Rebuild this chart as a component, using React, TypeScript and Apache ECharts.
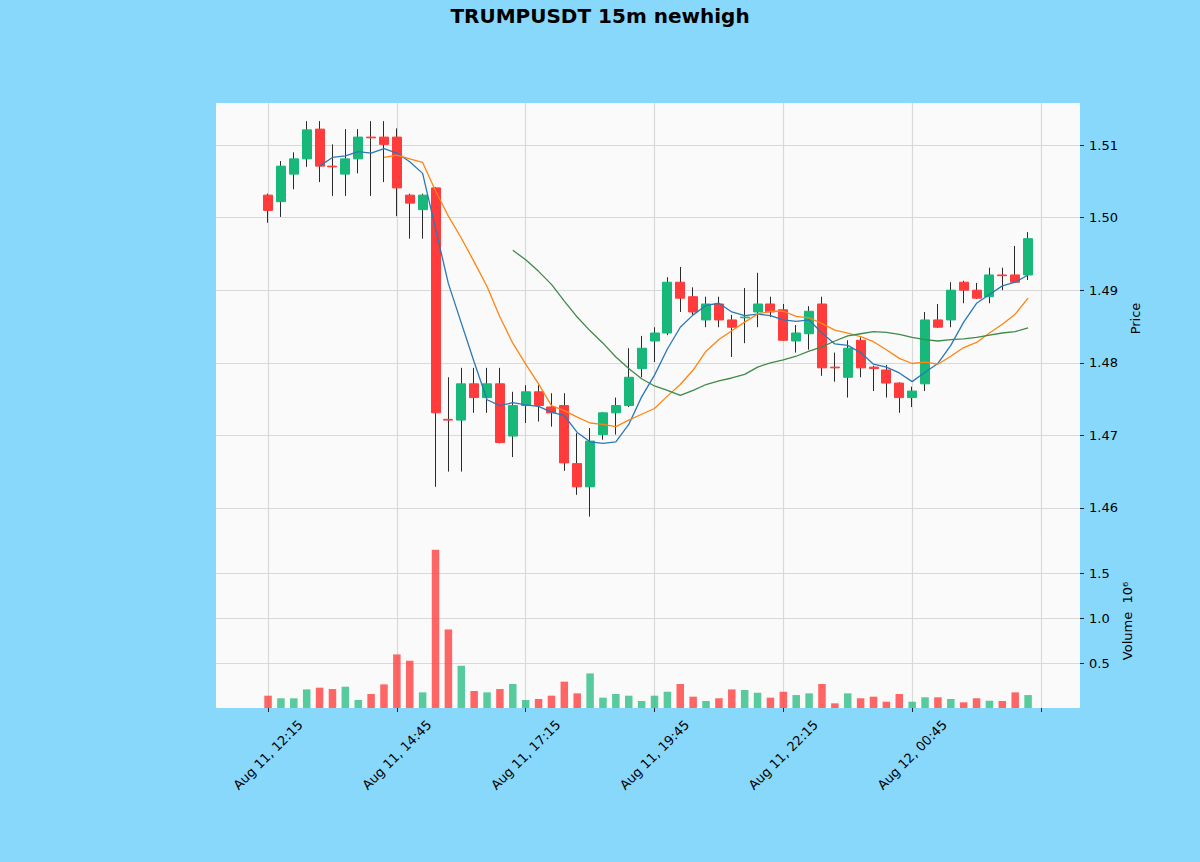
import React, { useEffect, useRef } from "react";
import * as echarts from "echarts";

// ---- data (15m candles, Aug 11 12:15 -> Aug 12 03:00) ----
const tickIndex = [0, 10, 20, 30, 40, 50, 60];
const tickLabels = [
  "Aug 11, 12:15",
  "Aug 11, 14:45",
  "Aug 11, 17:15",
  "Aug 11, 19:45",
  "Aug 11, 22:15",
  "Aug 12, 00:45",
  "",
];

const opens = [
  1.5031, 1.5022, 1.506, 1.5081, 1.5122, 1.5071, 1.506, 1.5081, 1.5111, 1.5111,
  1.5111, 1.5031, 1.5011, 1.5041, 1.4722, 1.4721, 1.4771, 1.4752, 1.4771, 1.4699,
  1.4741, 1.476, 1.4739, 1.4741, 1.4661, 1.4629, 1.4701, 1.4731, 1.4741, 1.4792,
  1.483, 1.4841, 1.4911, 1.4891, 1.4859, 1.4881, 1.4859, 1.4862, 1.487, 1.4881,
  1.4873, 1.483, 1.484, 1.4881, 1.4794, 1.478, 1.4831, 1.4794, 1.479, 1.4772,
  1.4752, 1.4771, 1.4859, 1.4859, 1.4911, 1.49, 1.4891, 1.4921, 1.4921, 1.4921,
];
const closes = [
  1.501, 1.5071, 1.5081, 1.5121, 1.5071, 1.507, 1.5081, 1.5111, 1.511, 1.5101,
  1.5041, 1.502, 1.5031, 1.4731, 1.4721, 1.4771, 1.4752, 1.4771, 1.469, 1.4741,
  1.476, 1.4741, 1.4731, 1.4662, 1.4629, 1.4692, 1.4731, 1.4741, 1.478, 1.482,
  1.4841, 1.4911, 1.4889, 1.487, 1.4881, 1.4859, 1.4849, 1.4863, 1.4881, 1.487,
  1.4831, 1.4841, 1.4871, 1.4793, 1.4793, 1.482, 1.4793, 1.4792, 1.4772, 1.4752,
  1.4761, 1.4859, 1.4849, 1.49, 1.49, 1.4889, 1.4921, 1.492, 1.4911, 1.4971,
];
const highs = [
  1.5033, 1.5078, 1.509, 1.5133, 1.5133, 1.5101, 1.5122, 1.5122, 1.5133, 1.5133,
  1.5123, 1.5033, 1.5033, 1.5042, 1.478, 1.4793, 1.4793, 1.4793, 1.4793, 1.476,
  1.4769, 1.4769, 1.4758, 1.4758, 1.4703, 1.471, 1.4732, 1.4752, 1.482, 1.4837,
  1.4849, 1.4918, 1.4932, 1.4904, 1.4891, 1.4891, 1.4866, 1.4903, 1.4924, 1.4891,
  1.4881, 1.4852, 1.4878, 1.4891, 1.4814, 1.4831, 1.4835, 1.4796, 1.4797, 1.4773,
  1.4767, 1.487, 1.4881, 1.4911, 1.4913, 1.491, 1.4931, 1.4931, 1.4961, 1.498,
];
const lows = [
  1.4993, 1.5001, 1.5039, 1.507, 1.5049, 1.503, 1.503, 1.5061, 1.503, 1.5049,
  1.5002, 1.4971, 1.4971, 1.4629, 1.465, 1.465, 1.4731, 1.4731, 1.4689, 1.467,
  1.4717, 1.4719, 1.4712, 1.4651, 1.4618, 1.4588, 1.4694, 1.4701, 1.4739, 1.478,
  1.4801, 1.4838, 1.487, 1.4866, 1.4849, 1.4849, 1.4808, 1.4827, 1.4849, 1.4863,
  1.483, 1.4814, 1.4818, 1.4782, 1.4774, 1.4752, 1.478, 1.4761, 1.4752, 1.4731,
  1.4739, 1.4761, 1.4848, 1.4849, 1.4882, 1.4888, 1.4882, 1.49, 1.491, 1.4914,
];
// volume in millions
const volumes = [
  0.137, 0.108, 0.108, 0.207, 0.226, 0.211, 0.237, 0.089, 0.156, 0.263,
  0.596, 0.526, 0.174, 1.76, 0.874, 0.47, 0.189, 0.174, 0.211, 0.267,
  0.089, 0.1, 0.137, 0.293, 0.163, 0.385, 0.115, 0.156, 0.137, 0.078,
  0.137, 0.181, 0.267, 0.126, 0.078, 0.108, 0.207, 0.2, 0.17, 0.115,
  0.181, 0.144, 0.163, 0.267, 0.052, 0.163, 0.108, 0.126, 0.07, 0.156,
  0.07, 0.119, 0.119, 0.1, 0.063, 0.108, 0.081, 0.078, 0.174, 0.144,
];

// moving-average lines
const ma5Start = 4;
const ma5 = [
  1.5071, 1.5083, 1.5085, 1.5091, 1.5089, 1.5095, 1.5089, 1.5077, 1.5061, 1.4985,
  1.4909, 1.4855, 1.4801, 1.4749, 1.4741, 1.4745, 1.4742, 1.474, 1.4732, 1.4727,
  1.4704, 1.4691, 1.4689, 1.4691, 1.4715, 1.4753, 1.4783, 1.4819, 1.4849, 1.4866,
  1.4879, 1.4882, 1.487, 1.4865, 1.4867, 1.4865, 1.4859, 1.4857, 1.4859, 1.4841,
  1.4826, 1.4824, 1.4814, 1.4798, 1.4794, 1.4786, 1.4774, 1.4787, 1.4799, 1.4824,
  1.4856, 1.4882, 1.4894, 1.4906, 1.4911, 1.4921,
];
const ma10Start = 9;
const ma10 = [
  1.5083, 1.5086, 1.5081, 1.5076, 1.5037, 1.5002, 1.4972, 1.4939, 1.4905, 1.4863,
  1.4827, 1.4798, 1.4771, 1.4741, 1.4734, 1.4725, 1.4717, 1.4715, 1.4712, 1.4721,
  1.4729, 1.4737, 1.4754, 1.477, 1.479, 1.4816, 1.4832, 1.4844, 1.4856, 1.4867,
  1.4871, 1.4871, 1.4864, 1.4862, 1.4854, 1.4845, 1.4841, 1.4836, 1.4829, 1.4818,
  1.4806, 1.4799, 1.4801, 1.4798, 1.4809, 1.4821, 1.4828, 1.4841, 1.4853, 1.4867,
  1.4889,
];
const ma20Start = 19;
const ma20 = [
  1.4955, 1.4942, 1.4926, 1.4908, 1.4885, 1.4863, 1.4844, 1.4827, 1.4808, 1.4792,
  1.4778, 1.4768, 1.4762, 1.4755, 1.4762, 1.477, 1.4775, 1.4779, 1.4784, 1.4794,
  1.48, 1.4804, 1.4809, 1.4816, 1.4822, 1.483, 1.4837, 1.484, 1.4843, 1.4842,
  1.4839, 1.4835, 1.4832, 1.483, 1.4832, 1.4833, 1.4835, 1.4838, 1.4841, 1.4843,
  1.4848,
];

const priceTicks = [1.46, 1.47, 1.48, 1.49, 1.5, 1.51];
const volumeTicks = [0.5, 1.0, 1.5];

// ---- styling ----
const FONT = "DejaVu Sans";
const UP = "#17b879";
const DOWN = "#ff3b3b";
const VOL_UP = "rgba(23,184,121,0.72)";
const VOL_DOWN = "rgba(255,59,59,0.78)";
const WICK = "#2b2b2b";
const GRIDLINE = "#d9d9d9";

export default function App() {
  const ref = useRef<HTMLDivElement>(null);

  useEffect(() => {
    if (!ref.current) return;
    const chart = echarts.init(ref.current, undefined, { renderer: "svg" });

    const full = opens.map((o, i) => [i, o, closes[i], lows[i], highs[i]]);
    const bodies = opens.map((o, i) => [
      i,
      o,
      closes[i],
      Math.min(o, closes[i]),
      Math.max(o, closes[i]),
    ]);
    const vols = volumes.map((v, i) => ({
      value: [i, v],
      itemStyle: { color: closes[i] >= opens[i] ? VOL_UP : VOL_DOWN },
    }));
    const line = (arr: number[], start: number) => arr.map((v, k) => [k + start, v]);

    const xCommon = {
      type: "value" as const,
      min: -4.04,
      max: 63.03,
      axisLine: { show: false, onZero: false },
      splitLine: { show: true, lineStyle: { color: GRIDLINE, width: 1.2 } },
    };

    const option: any = {
      animation: false,
      backgroundColor: "#88d8fc",
      textStyle: { fontFamily: FONT },
      title: {
        text: "TRUMPUSDT 15m newhigh",
        left: "center",
        top: 1,
        textStyle: { fontFamily: FONT, fontSize: 20, fontWeight: "bold", color: "#000" },
      },
      grid: [
        { left: 216, width: 864, top: 103, height: 431, show: true, backgroundColor: "#fafafa", borderWidth: 0 },
        { left: 216, width: 864, top: 534, height: 174, show: true, backgroundColor: "#fafafa", borderWidth: 0 },
      ],
      xAxis: [
        {
          ...xCommon,
          gridIndex: 0,
          axisTick: { show: false, customValues: tickIndex },
          axisLabel: { show: false, customValues: tickIndex },
        },
        {
          ...xCommon,
          gridIndex: 1,
          axisTick: { show: true, length: 4, customValues: tickIndex, lineStyle: { color: "#222" } },
          axisLabel: {
            show: true,
            customValues: tickIndex,
            rotate: 45,
            align: "center",
            verticalAlign: "middle",
            margin: 47,
            fontFamily: FONT,
            fontSize: 13,
            color: "#000",
            formatter: (v: number) => {
              const k = tickIndex.indexOf(Math.round(v));
              return k >= 0 ? tickLabels[k] : "";
            },
          },
        },
      ],
      yAxis: [
        {
          type: "value",
          gridIndex: 0,
          position: "right",
          min: 1.4564,
          max: 1.5158,
          axisLine: { show: false, onZero: false },
          axisTick: { show: true, length: 4, customValues: priceTicks, lineStyle: { color: "#222" } },
          axisLabel: {
            customValues: priceTicks,
            margin: 9,
            fontFamily: FONT,
            fontSize: 13,
            color: "#000",
            formatter: (v: number) => v.toFixed(2),
          },
          splitLine: { show: true, lineStyle: { color: GRIDLINE, width: 1.2 } },
          name: "Price",
          nameLocation: "middle",
          nameGap: 43,
          nameTextStyle: { fontFamily: FONT, fontSize: 13, color: "#000" },
        },
        {
          type: "value",
          gridIndex: 1,
          position: "right",
          min: 0,
          max: 1.936,
          axisLine: { show: false, onZero: false },
          axisTick: { show: true, length: 4, customValues: volumeTicks, lineStyle: { color: "#222" } },
          axisLabel: {
            customValues: volumeTicks,
            margin: 9,
            fontFamily: FONT,
            fontSize: 13,
            color: "#000",
            formatter: (v: number) => v.toFixed(1),
          },
          splitLine: { show: true, lineStyle: { color: GRIDLINE, width: 1.2 } },
          name: "Volume  10\u2076",
          nameLocation: "middle",
          nameGap: 37,
          nameTextStyle: { fontFamily: FONT, fontSize: 13, color: "#000" },
        },
      ],
      series: [
        {
          name: "wicks",
          type: "candlestick",
          xAxisIndex: 0,
          yAxisIndex: 0,
          barWidth: 1,
          encode: { x: 0, y: [1, 2, 3, 4] },
          data: full,
          itemStyle: { color: WICK, color0: WICK, borderColor: WICK, borderColor0: WICK, borderWidth: 1 },
          silent: true,
          z: 2,
        },
        {
          name: "bodies",
          type: "candlestick",
          xAxisIndex: 0,
          yAxisIndex: 0,
          barWidth: 9.5,
          encode: { x: 0, y: [1, 2, 3, 4] },
          data: bodies,
          itemStyle: { color: UP, color0: DOWN, borderColor: UP, borderColor0: DOWN, borderWidth: 1 },
          silent: true,
          z: 3,
        },
        {
          name: "MA5",
          type: "line",
          xAxisIndex: 0,
          yAxisIndex: 0,
          data: line(ma5, ma5Start),
          showSymbol: false,
          lineStyle: { color: "#2a78b5", width: 1.3 },
          silent: true,
          z: 5,
        },
        {
          name: "MA10",
          type: "line",
          xAxisIndex: 0,
          yAxisIndex: 0,
          data: line(ma10, ma10Start),
          showSymbol: false,
          lineStyle: { color: "#ff8512", width: 1.3 },
          silent: true,
          z: 5,
        },
        {
          name: "MA20",
          type: "line",
          xAxisIndex: 0,
          yAxisIndex: 0,
          data: line(ma20, ma20Start),
          showSymbol: false,
          lineStyle: { color: "#3f8a47", width: 1.3 },
          silent: true,
          z: 5,
        },
        {
          name: "Volume",
          type: "bar",
          xAxisIndex: 1,
          yAxisIndex: 1,
          barWidth: 7.5,
          data: vols,
          silent: true,
        },
      ],
    };

    chart.setOption(option);
    return () => chart.dispose();
  }, []);

  return (
    <div
      ref={ref}
      style={{ position: "fixed", left: 0, top: 0, width: 1200, height: 862 }}
    />
  );
}
